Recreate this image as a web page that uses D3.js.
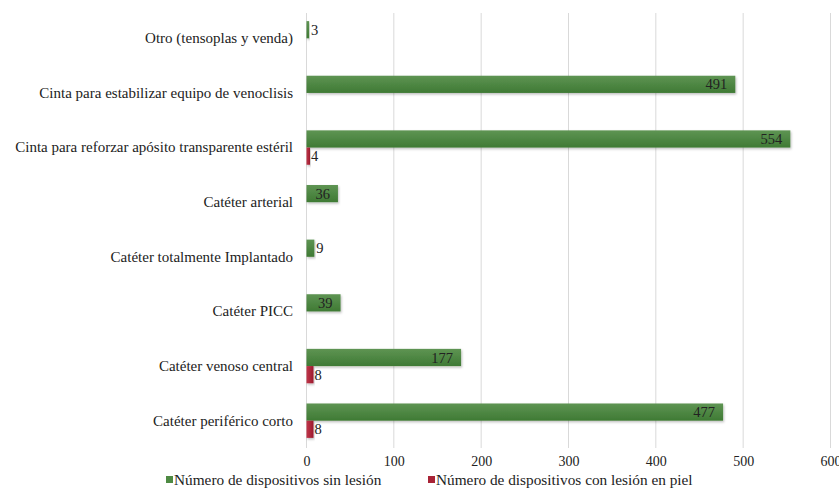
<!DOCTYPE html>
<html><head><meta charset="utf-8">
<script src="https://cdn.jsdelivr.net/npm/d3@7"></script>
<style>
body{margin:0;background:#fff;}
svg text{font-family:"Liberation Serif","Times New Roman",Times,serif !important;fill:#222;}
</style></head><body>
<svg id="c" width="839" height="489"></svg>
<script>
const categories = ["Catéter periférico corto","Catéter venoso central","Catéter PICC","Catéter totalmente Implantado","Catéter arterial","Cinta para reforzar apósito transparente estéril","Cinta para estabilizar equipo de venoclisis","Otro (tensoplas y venda)"];
const sinLesion = [477,177,39,9,36,554,491,3];
const conLesion = [8,8,0,0,0,4,0,0];
const seriesNames = ["Número de dispositivos sin lesión","Número de dispositivos con lesión en piel"];
const xTicks = [0,100,200,300,400,500,600];

const FS = 15, FT = 14, FD = 14.5;
const svg = d3.select("#c");
const x = d3.scaleLinear().domain([0,600]).range([306.5,830.5]);
const y = d3.scaleBand().domain(categories.slice().reverse()).range([11,448]).paddingInner(0.37).paddingOuter(0.185);

const defs = svg.append("defs");
const g1 = defs.append("linearGradient").attr("id","gG").attr("x1",0).attr("x2",0).attr("y1",0).attr("y2",1);
g1.append("stop").attr("offset","0%").attr("stop-color","#5e9453");
g1.append("stop").attr("offset","100%").attr("stop-color","#3f7a34");
const g2 = defs.append("linearGradient").attr("id","gR").attr("x1",0).attr("x2",1).attr("y1",0).attr("y2",0);
g2.append("stop").attr("offset","0%").attr("stop-color","#c0374a");
g2.append("stop").attr("offset","100%").attr("stop-color","#9c1a2e");
const f = defs.append("filter").attr("id","sh").attr("x","-5%").attr("y","-20%").attr("width","115%").attr("height","160%");
f.append("feDropShadow").attr("dx",1).attr("dy",1.5).attr("stdDeviation",1).attr("flood-color","#000").attr("flood-opacity",0.25);

svg.append("g").selectAll("line").data(xTicks).join("line")
  .attr("x1",d=>x(d)).attr("x2",d=>x(d)).attr("y1",13).attr("y2",448)
  .attr("stroke","#d9d9d9").attr("stroke-width",1);

const xa = svg.append("g").attr("transform","translate(0,448)")
  .call(d3.axisBottom(x).tickValues(xTicks).tickSize(0).tickPadding(8));
xa.select(".domain").remove();
xa.attr("font-family",null);
xa.selectAll("text").attr("font-size",FT).attr("fill","#333");

const ya = svg.append("g").attr("transform","translate(293,0)")
  .call(d3.axisLeft(y).tickSize(0).tickPadding(0));
ya.select(".domain").remove();
ya.attr("font-family",null);
ya.selectAll("text").attr("font-size",FS).attr("fill","#222");

const bh = y.bandwidth()/2;
const rows = categories.map((c,i)=>({c, a:sinLesion[i], b:conLesion[i]}));

const gg = svg.append("g");
gg.selectAll("rect").data(rows).join("rect")
  .attr("x",x(0)).attr("y",d=>y(d.c)).attr("width",d=>x(d.a)-x(0)).attr("height",bh)
  .attr("fill","url(#gG)").attr("filter","url(#sh)");
gg.selectAll("text").data(rows).join("text")
  .attr("font-size",FD)
  .attr("y",d=>y(d.c)+bh/2).attr("dy","0.35em")
  .each(function(d){
    const w = x(d.a)-x(0);
    const t = d3.select(this).text(d.a);
    if (w > 26) t.attr("x",x(d.a)-8).attr("text-anchor","end");
    else t.attr("x",x(d.a)+2).attr("text-anchor","start");
  });

const rows2 = rows.filter(d=>d.b>0);
const rg = svg.append("g");
rg.selectAll("rect").data(rows2).join("rect")
  .attr("x",x(0)).attr("y",d=>y(d.c)+bh).attr("width",d=>x(d.b)-x(0)).attr("height",bh)
  .attr("fill","url(#gR)").attr("filter","url(#sh)");
rg.selectAll("text").data(rows2).join("text")
  .attr("font-size",FD)
  .attr("x",d=>x(d.b)+1).attr("y",d=>y(d.c)+bh*1.5).attr("dy","0.35em")
  .text(d=>d.b);

const leg = svg.append("g").attr("transform","translate(0,480)");
const lx = [166,428];
const lc = ["#4e8a43","#a82336"];
seriesNames.forEach((s,i)=>{
  leg.append("rect").attr("x",lx[i]).attr("y",-4).attr("width",7).attr("height",7).attr("fill",lc[i]);
  leg.append("text").attr("x",lx[i]+8).attr("y",0).attr("dy","0.35em").attr("font-size",15.3).attr("fill","#333").text(s);
});
</script>
</body></html>
